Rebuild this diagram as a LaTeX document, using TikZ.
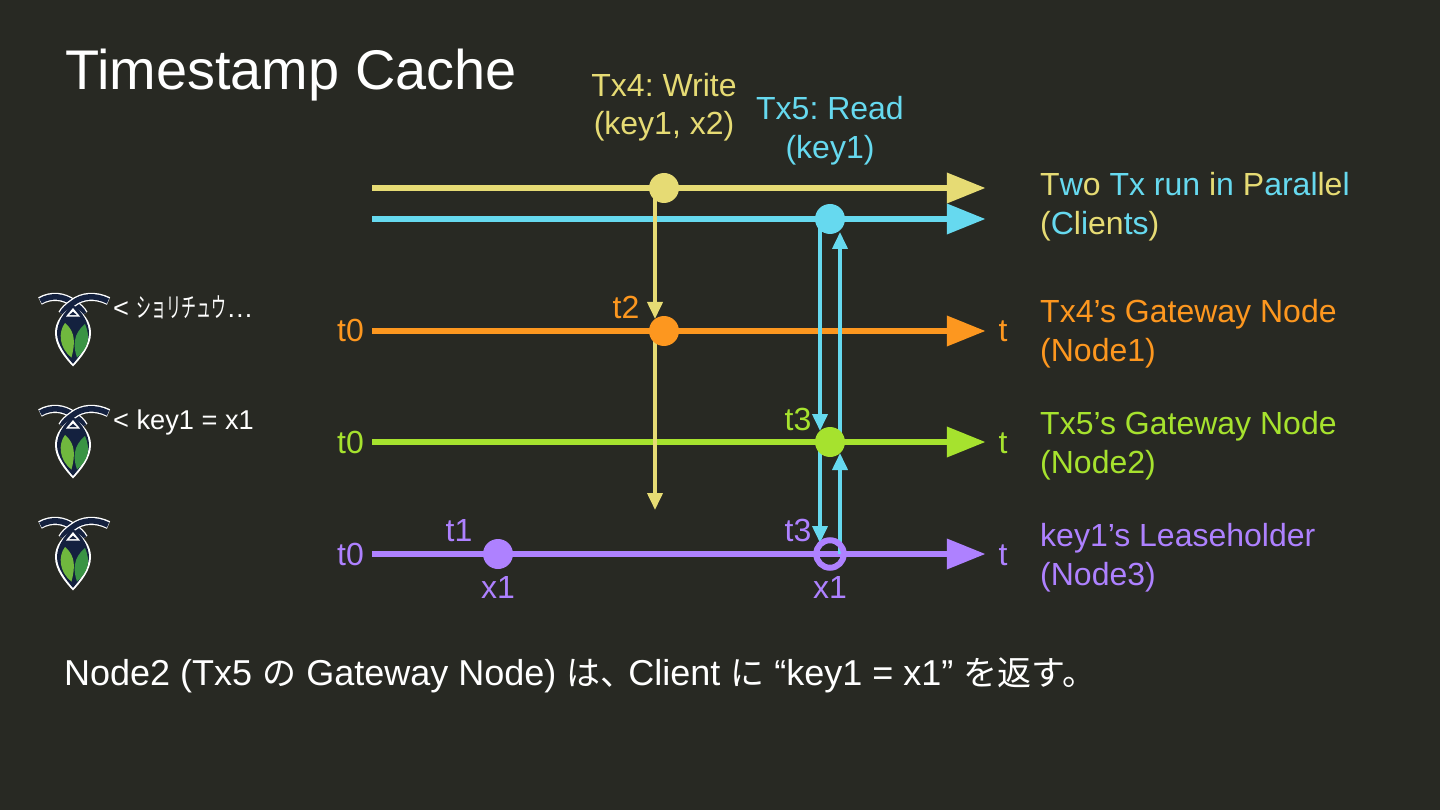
\documentclass[tikz,border=0pt]{standalone}
\usepackage{fontspec}
\usetikzlibrary{arrows.meta}
\setmainfont{Liberation Sans}
\newfontfamily\cjk{Noto Sans CJK JP}
\newfontfamily\cjknarrow[FakeStretch=0.55]{Noto Sans CJK JP}
\definecolor{bgc}{HTML}{282923}
\definecolor{cy}{HTML}{E6DB74}
\definecolor{cb}{HTML}{66D9EF}
\definecolor{co}{HTML}{FD971F}
\definecolor{cg}{HTML}{A6E22E}
\definecolor{cp}{HTML}{AE81FF}
\definecolor{navy}{HTML}{14213F}
\definecolor{leafa}{HTML}{70B83E}
\definecolor{leafb}{HTML}{3A9444}
\newcommand{\ty}[1]{\textcolor{cy}{#1}}
\newcommand{\tb}[1]{\textcolor{cb}{#1}}
\newcommand{\cjkfoot}[1]{{\cjk\fontsize{34}{40}\selectfont #1}}
\frenchspacing
\pgfdeclarelayer{horiz}
\pgfdeclarelayer{vert}
\pgfsetlayers{horiz,vert,main}
\tikzset{
  x=1pt,y=-1pt,
  lbl/.style={inner sep=0pt,anchor=base,font=\fontsize{32}{38}\selectfont},
  lblw/.style={lbl,anchor=base west,align=left},
  timeline/.style={line width=6.8pt,-{Triangle[length=39pt,width=29pt]}},
  msg/.style={line width=3.8pt,-{Triangle[length=17pt,width=15pt]}},
  dot/.style={circle,minimum size=30pt,inner sep=0pt,fill=#1},
  ring/.style={circle,minimum size=27.5pt,inner sep=0pt,draw=#1,line width=6pt},
  endp/.style={inner sep=0pt,minimum size=0pt},
  small/.style={inner sep=0pt,anchor=base west,text=white,font=\fontsize{27.2}{32}\selectfont},
  pics/logo/.style={code={
    % antennae: each band crosses at the top of the body and runs into its shoulder
    \draw[white,line width=8.2pt] (-33,7) .. controls (-22,0.5) and (-9,2) .. (0,9) .. controls (5,12.5) and (9,16) .. (11,20);
    \draw[navy,line width=5.6pt] (-32.5,7) .. controls (-22,0.5) and (-9,2) .. (0,9) .. controls (5,12.5) and (9,16) .. (11,20);
    \draw[white,line width=8.2pt] (35.5,7) .. controls (22,0.5) and (9,2) .. (0,9) .. controls (-5,12.5) and (-9,16) .. (-11,20);
    \draw[navy,line width=5.6pt] (35,7) .. controls (22,0.5) and (9,2) .. (0,9) .. controls (-5,12.5) and (-9,16) .. (-11,20);
    % body
    \fill[white] (0,12.5) .. controls (11,18) and (18,28) .. (18,39) .. controls (18,52) and (8,64) .. (0,72.5) .. controls (-8,64) and (-18,52) .. (-18,39) .. controls (-18,28) and (-11,18) .. (0,12.5) -- cycle;
    \fill[navy] (0,11) .. controls (9,17) and (16,29) .. (16,39) .. controls (16,50) and (7,62) .. (0,69.8) .. controls (-7,62) and (-16,50) .. (-16,39) .. controls (-16,29) and (-9,17) .. (0,11) -- cycle;
    % triangle
    \fill[white] (0,14) -- (7,22.5) -- (-7,22.5) -- cycle;
    \fill[navy] (0,17.6) -- (3.8,21.2) -- (-3.8,21.2) -- cycle;
    % leaves
    \fill[leafa] (-8,29) .. controls (-15,38) and (-14,54) .. (-1.5,63.5) .. controls (2,50) and (3,38) .. (-8,29) -- cycle;
    \fill[leafb] (12,30) .. controls (18,44) and (15,54) .. (4,63.5) .. controls (0,52) and (0,40) .. (12,30) -- cycle;
  }}
}
\begin{document}
\begin{tikzpicture}
\useasboundingbox (0,0) rectangle (1440,810);
\begin{pgfonlayer}{horiz}
\fill[bgc] (0,0) rectangle (1440,810);
\end{pgfonlayer}

% title
\node[inner sep=0pt,anchor=base west,text=white,font=\fontsize{55.9}{60}\selectfont] (title) at (65,89.5) {Timestamp Cache};

% tx labels
\node[lbl,text=cy] (txa) at (664,97) {Tx4: Write};
\node[lbl,text=cy] (txb) at (664,135) {(key1, x2)};
\node[lbl,text=cb] (txc) at (830,120) {Tx5: Read};
\node[lbl,text=cb] (txd) at (830,159) {(key1)};

% line ends
\node[endp] (ys) at (372,188) {}; \node[endp] (ye) at (986,188) {};
\node[endp] (bs) at (372,219) {}; \node[endp] (be) at (986,219) {};
\node[endp] (os) at (372,331) {}; \node[endp] (oe) at (986,331) {};
\node[endp] (gs) at (372,442) {}; \node[endp] (ge) at (986,442) {};
\node[endp] (ps) at (372,554) {}; \node[endp] (pe) at (986,554) {};
\coordinate (yfree) at (655,510);

% event dots
\node[dot=cy] (w) at (664,188) {};
\node[dot=cb] (r) at (830,219) {};
\node[dot=co] (n1) at (664,331) {};
\node[dot=cg] (n2) at (830,442) {};
\node[dot=cp] (k1) at (498,554) {};
\node[ring=cp] (k2) at (830,554) {};

\begin{pgfonlayer}{horiz}
\draw[timeline,cy] (ys) -- (ye);
\draw[timeline,cb] (bs) -- (be);
\draw[timeline,co] (os) -- (oe);
\draw[timeline,cg] (gs) -- (ge);
\draw[timeline,cp] (ps) -- (pe);
\end{pgfonlayer}

\begin{pgfonlayer}{vert}
\draw[msg,cy] ([xshift=-9pt]w.center) -- ([xshift=-9pt,yshift=12pt]n1.center);
\draw[msg,cy] ([xshift=-9pt]n1.center) -- (yfree);
\draw[msg,cb] ([xshift=-10pt]r.center) -- ([xshift=-10pt,yshift=11pt]n2.center);
\draw[msg,cb] ([xshift=-10pt]n2.center) -- ([xshift=-10pt,yshift=11pt]k2.center);
\draw[msg,cb] ([xshift=10pt]k2.center) -- ([xshift=10pt,yshift=-11pt]n2.center);
\draw[msg,cb] ([xshift=10pt]n2.center) -- ([xshift=10pt,yshift=-13pt]r.center);
\end{pgfonlayer}

% left t0
\node[lbl,anchor=base east,text=co] (t0a) at (364,341) {t0};
\node[lbl,anchor=base east,text=cg] (t0b) at (364,453) {t0};
\node[lbl,anchor=base east,text=cp] (t0c) at (364,565) {t0};
% right t
\node[lbl,text=co] (ta) at (1003,341) {t};
\node[lbl,text=cg] (tb) at (1003,453) {t};
\node[lbl,text=cp] (tc) at (1003,565) {t};
% event labels
\node[lbl,text=co] (t2) at (626,318) {t2};
\node[lbl,text=cg] (t3a) at (798,430) {t3};
\node[lbl,text=cp] (t3b) at (798,541) {t3};
\node[lbl,text=cp] (t1) at (459,541) {t1};
\node[lbl,text=cp] (x1a) at (498,598) {x1};
\node[lbl,text=cp] (x1b) at (830,598) {x1};

% right labels
\node[lblw] (l1a) at (1040,195.5) {\ty{T}\tb{w}\ty{o} \tb{Tx} \tb{run} \ty{i}\tb{n} \ty{P}\tb{aral}\ty{le}\tb{l}};
\node[lblw] (l1b) at (1040,234.5) {\ty{(}\tb{C}\ty{l}\tb{i}\ty{en}\tb{ts}\ty{)}};
\node[lblw,text=co] (l2a) at (1040,322) {Tx4’s Gateway Node};
\node[lblw,text=co] (l2b) at (1040,361) {(Node1)};
\node[lblw,text=cg] (l3a) at (1040,434) {Tx5’s Gateway Node};
\node[lblw,text=cg] (l3b) at (1040,473) {(Node2)};
\node[lblw,text=cp] (l4a) at (1040,546) {key1’s Leaseholder};
\node[lblw,text=cp] (l4b) at (1040,585) {(Node3)};

% logos
\pic at (73,294) {logo};
\pic at (73,406) {logo};
\pic at (73,518) {logo};
\node[small] (s1) at (113,317) {<\ {\cjknarrow ショリチュウ}…};
\node[small] (s2) at (113,429) {< key1 = x1};

% bottom
\node[inner sep=0pt,anchor=base west,text=white,font=\fontsize{36}{40}\selectfont] (foot) at (64,685)
  {Node2 (Tx5 \cjkfoot{の} Gateway Node) \cjkfoot{は、}\hspace{-6pt}Client \cjkfoot{に} “key1 = x1” \cjkfoot{を返す。}};
\end{tikzpicture}
\end{document}
